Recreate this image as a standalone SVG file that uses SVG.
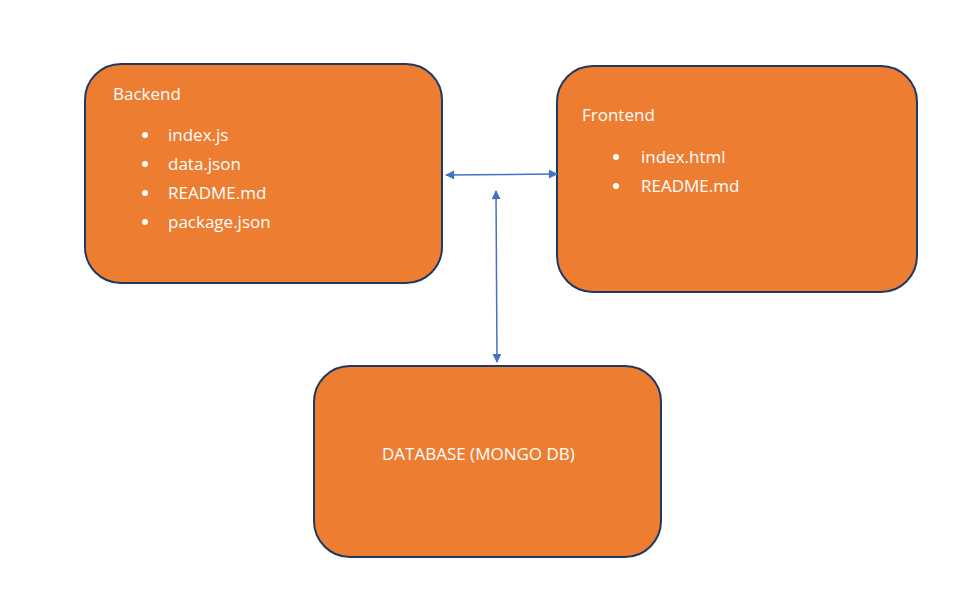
<svg xmlns="http://www.w3.org/2000/svg" width="975" height="600" viewBox="0 0 975 600">
<style>
.box{fill:#ED7D31;stroke:#1F3864;stroke-width:2}
.t{fill:#fff;font-family:"Open Sans","Liberation Sans",sans-serif;font-size:17px}
.c{stroke:#4472C4;stroke-width:1.5;fill:none}
</style>
<defs>
<marker id="ah" viewBox="0 0 10 10" refX="9" refY="5" markerWidth="10" markerHeight="9" orient="auto-start-reverse" markerUnits="userSpaceOnUse">
<path d="M0,0 L10,5 L0,10 z" fill="#4472C4"/>
</marker>
</defs>
<rect width="975" height="600" fill="#fff"/>
<g id="backend">
<rect class="box" x="85" y="64" width="357" height="219" rx="36"/>
<text class="t" x="113" y="100">Backend</text>
<circle cx="145" cy="135" r="3" fill="#fff"/>
<circle cx="145" cy="164" r="3" fill="#fff"/>
<circle cx="145" cy="193" r="3" fill="#fff"/>
<circle cx="145" cy="222" r="3" fill="#fff"/>
<text class="t" x="168" y="141">index.js</text>
<text class="t" x="168" y="170">data.json</text>
<text class="t" x="168" y="199">README.md</text>
<text class="t" x="168" y="228">package.json</text>
</g>
<g id="frontend">
<rect class="box" x="557" y="66" width="360" height="226" rx="36"/>
<text class="t" x="582" y="121">Frontend</text>
<circle cx="616" cy="157" r="3" fill="#fff"/>
<circle cx="616" cy="186" r="3" fill="#fff"/>
<text class="t" x="641" y="163">index.html</text>
<text class="t" x="641" y="192">README.md</text>
</g>
<g id="database">
<rect class="box" x="314" y="366" width="347" height="191" rx="36"/>
<text class="t" x="382" y="460">DATABASE (MONGO DB)</text>
</g>
<g id="connectors">
<line class="c" x1="446" y1="175" x2="557" y2="174" marker-start="url(#ah)" marker-end="url(#ah)"/>
<line class="c" x1="496" y1="191" x2="497" y2="362" marker-start="url(#ah)" marker-end="url(#ah)"/>
</g>
</svg>
